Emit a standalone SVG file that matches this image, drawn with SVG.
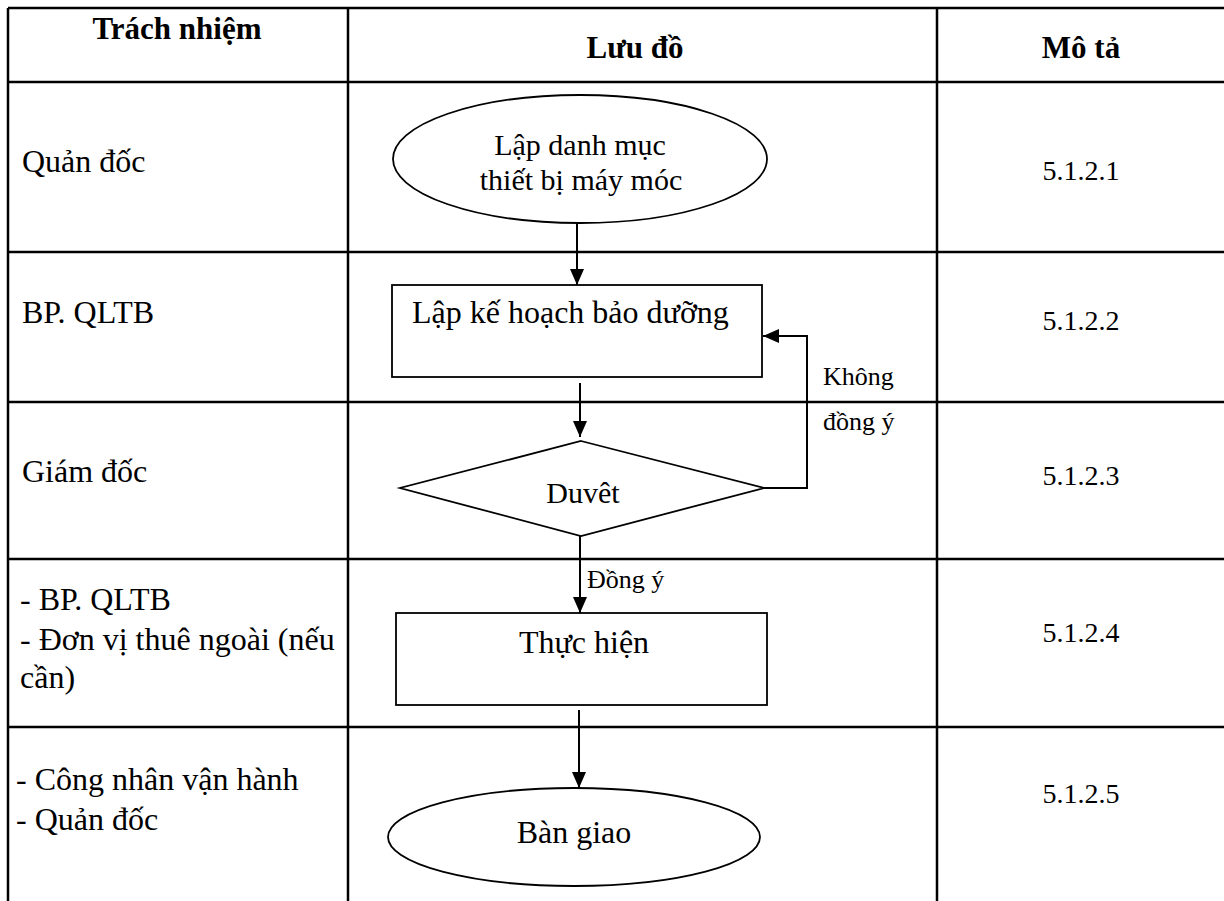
<svg xmlns="http://www.w3.org/2000/svg" width="1224" height="901" viewBox="0 0 1224 901" font-family="'Liberation Serif', 'Times New Roman', Times, 'Noto Serif', 'DejaVu Serif', serif">
<style>
.grid{stroke:#000;stroke-width:2.5;fill:none}
.shape{stroke:#000;stroke-width:1.8;fill:#fff}
.conn{stroke:#000;stroke-width:2;fill:none}
text{font-family:'Liberation Serif','Times New Roman',Times,'Noto Serif','DejaVu Serif',serif;fill:#000}
.t{font-size:32px}
.m{font-size:30px}
.n{font-size:28px}
.h{font-size:31px;font-weight:bold}
.s{font-size:26px}
.c{text-anchor:middle}
</style>
<defs>
<marker id="arr" markerUnits="userSpaceOnUse" viewBox="0 0 16 14" refX="16" refY="7" markerWidth="16" markerHeight="14" orient="auto">
<path d="M0,0 L16,7 L0,14 z" fill="#000"/>
</marker>
</defs>
<rect width="1224" height="901" fill="#fff"/>
<g id="table">
<line class="grid" x1="8" y1="8" x2="1224" y2="8"/>
<line class="grid" x1="8" y1="82" x2="1224" y2="82"/>
<line class="grid" x1="8" y1="252" x2="1224" y2="252"/>
<line class="grid" x1="8" y1="402" x2="1224" y2="402"/>
<line class="grid" x1="8" y1="559" x2="1224" y2="559"/>
<line class="grid" x1="8" y1="727" x2="1224" y2="727"/>
<line class="grid" x1="8" y1="8" x2="8" y2="901"/>
<line class="grid" x1="348" y1="8" x2="348" y2="901"/>
<line class="grid" x1="937" y1="8" x2="937" y2="901"/>
<text class="h c" x="177" y="39">Trách nhiệm</text>
<text class="h c" x="635" y="58">Lưu đồ</text>
<text class="h c" x="1081" y="58">Mô tả</text>
<text class="t" x="22" y="172">Quản đốc</text>
<text class="t" x="22" y="323">BP. QLTB</text>
<text class="t" x="22" y="482">Giám đốc</text>
<text class="t" x="20" y="610">- BP. QLTB</text>
<text class="t" x="20" y="650">- Đơn vị thuê ngoài (nếu</text>
<text class="t" x="20" y="688">cần)</text>
<text class="t" x="16" y="790">- Công nhân vận hành</text>
<text class="t" x="16" y="830">- Quản đốc</text>
<text class="n c" x="1081" y="180">5.1.2.1</text>
<text class="n c" x="1081" y="330">5.1.2.2</text>
<text class="n c" x="1081" y="485">5.1.2.3</text>
<text class="n c" x="1081" y="642">5.1.2.4</text>
<text class="n c" x="1081" y="803">5.1.2.5</text>
</g>
<g id="connectors">
<line class="conn" x1="577" y1="223" x2="577" y2="285" marker-end="url(#arr)"/>
<line class="conn" x1="580" y1="383" x2="580" y2="437" marker-end="url(#arr)"/>
<polyline class="conn" points="764,488 807,488 807,336 763,336" marker-end="url(#arr)"/>
<line class="conn" x1="580" y1="536" x2="580" y2="613" marker-end="url(#arr)"/>
<line class="conn" x1="579" y1="710" x2="579" y2="788" marker-end="url(#arr)"/>
<text class="s" x="823" y="385">Không</text>
<text class="s" x="823" y="430">đồng ý</text>
<text class="s" x="587" y="588">Đồng ý</text>
</g>
<g id="n1">
<ellipse class="shape" cx="580" cy="159" rx="187" ry="64"/>
<text class="m c" x="580" y="155">Lập danh mục</text>
<text class="m c" x="581" y="190">thiết bị máy móc</text>
</g>
<g id="n2">
<rect class="shape" x="392" y="285" width="370" height="92"/>
<text class="t" x="412" y="323">Lập kế hoạch bảo dưỡng</text>
</g>
<g id="n3">
<polygon class="shape" points="581,441 764,488 581,536 400,488"/>
<text class="m c" x="583" y="503">Duvêt</text>
</g>
<g id="n4">
<rect class="shape" x="396" y="613" width="371" height="92"/>
<text class="t c" x="584" y="653">Thực hiện</text>
</g>
<g id="n5">
<ellipse class="shape" cx="574" cy="837" rx="186" ry="49"/>
<text class="t c" x="574" y="843">Bàn giao</text>
</g>
</svg>
